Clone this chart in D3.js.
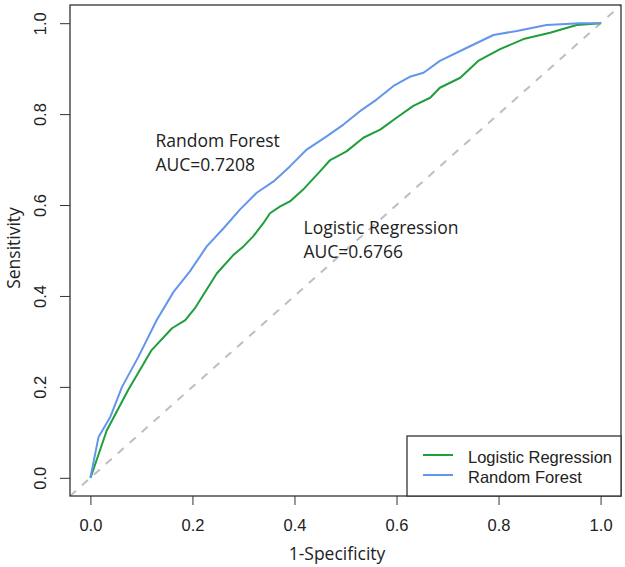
<!DOCTYPE html>
<html><head><meta charset="utf-8">
<script src="https://cdn.jsdelivr.net/npm/d3@7"></script>
<style>body{margin:0;background:#fff}</style>
</head><body>
<svg id="chart" width="625" height="567"></svg>
<script>
// ROC curve points: [1-specificity, sensitivity]
const rfFpr = [0, 0.016, 0.039, 0.062, 0.094, 0.130, 0.163, 0.195, 0.228, 0.261, 0.293, 0.326, 0.359, 0.391, 0.424, 0.463, 0.496, 0.529, 0.561, 0.594, 0.626, 0.653, 0.685, 0.738, 0.790, 0.836, 0.894, 0.960, 1];
const rfTpr = [0, 0.090, 0.134, 0.200, 0.266, 0.347, 0.409, 0.454, 0.509, 0.549, 0.590, 0.627, 0.652, 0.685, 0.722, 0.751, 0.777, 0.807, 0.832, 0.862, 0.882, 0.891, 0.917, 0.946, 0.974, 0.983, 0.996, 1.0, 1];
const lrFpr = [0, 0.003, 0.032, 0.074, 0.120, 0.160, 0.186, 0.205, 0.215, 0.248, 0.280, 0.300, 0.319, 0.339, 0.352, 0.372, 0.391, 0.417, 0.450, 0.470, 0.502, 0.535, 0.568, 0.600, 0.633, 0.666, 0.685, 0.725, 0.760, 0.803, 0.849, 0.901, 0.953, 1];
const lrTpr = [0, 0.009, 0.104, 0.193, 0.281, 0.329, 0.347, 0.373, 0.391, 0.450, 0.490, 0.509, 0.531, 0.560, 0.582, 0.597, 0.608, 0.634, 0.674, 0.699, 0.718, 0.748, 0.766, 0.792, 0.818, 0.836, 0.858, 0.880, 0.917, 0.943, 0.965, 0.979, 0.996, 1];
const tickValues = [0, 0.2, 0.4, 0.6, 0.8, 1.0];
const seriesNames = ["Logistic Regression", "Random Forest"];
const aucLabels = ["AUC=0.6766", "AUC=0.7208"];
const colors = ["#1f9e3c", "#6495ed"];

const svg = d3.select("#chart");
const L = 70, R = 621, T = 5, B = 496;
const x = d3.scaleLinear().domain([-0.04, 1.04]).range([L, R]);
const y = d3.scaleLinear().domain([-0.04, 1.04]).range([B, T]);
const fmt = d3.format(".1f");
const axisFont = "'Liberation Sans', Arial, sans-serif";
const annFont = "'Open Sans', sans-serif";

// clip
svg.append("clipPath").attr("id", "clip").append("rect")
  .attr("x", L).attr("y", T).attr("width", R - L).attr("height", B - T);

// diagonal reference
svg.append("line").attr("clip-path", "url(#clip)")
  .attr("x1", x(-0.04)).attr("y1", y(-0.04)).attr("x2", x(1.04)).attr("y2", y(1.04))
  .attr("stroke", "#bebebe").attr("stroke-width", 2).attr("stroke-dasharray", "8,8");

const line = d3.line().x(d => x(d[0])).y(d => y(d[1]));
const lrData = lrFpr.map((v, i) => [v, lrTpr[i]]);
const rfData = rfFpr.map((v, i) => [v, rfTpr[i]]);
svg.append("path").datum(lrData).attr("d", line).attr("fill", "none")
  .attr("stroke", colors[0]).attr("stroke-width", 2).attr("stroke-linejoin", "round");
svg.append("path").datum(rfData).attr("d", line).attr("fill", "none")
  .attr("stroke", colors[1]).attr("stroke-width", 2).attr("stroke-linejoin", "round");

// axes
const xAxis = svg.append("g").attr("transform", `translate(0,${B})`)
  .call(d3.axisBottom(x).tickValues(tickValues).tickFormat(fmt).tickSize(9).tickPadding(14));
const yAxis = svg.append("g").attr("transform", `translate(${L},0)`)
  .call(d3.axisLeft(y).tickValues(tickValues).tickFormat(fmt).tickSize(10));
[xAxis, yAxis].forEach(a => {
  a.select(".domain").remove();
  a.selectAll(".tick line").attr("stroke", "#333");
  a.selectAll("text").attr("font-family", axisFont).attr("font-size", 16.5).attr("fill", "#222");
});
yAxis.selectAll(".tick text").attr("transform", "rotate(-90)")
  .attr("x", 0).attr("y", -24.5).attr("dy", 0).attr("text-anchor", "middle");

// box
svg.append("rect").attr("x", L).attr("y", T).attr("width", R - L).attr("height", B - T)
  .attr("fill", "none").attr("stroke", "#333").attr("stroke-width", 1.3);

// axis titles
svg.append("text").attr("x", 337).attr("y", 560).attr("text-anchor", "middle")
  .attr("font-family", annFont).attr("font-size", 17.5).attr("fill", "#222").text("1-Specificity");
svg.append("text").attr("transform", "translate(19.5,248) rotate(-90)").attr("text-anchor", "middle")
  .attr("font-family", annFont).attr("font-size", 17.5).attr("fill", "#222").text("Sensitivity");

// annotations
const ann = [
  {name: seriesNames[1], auc: aucLabels[1], px: 155.5, py: 146.5},
  {name: seriesNames[0], auc: aucLabels[0], px: 303.5, py: 233.5}
];
ann.forEach(a => {
  const t = svg.append("text").attr("font-family", annFont).attr("font-size", 17.5).attr("fill", "#222");
  t.append("tspan").attr("x", a.px).attr("y", a.py).text(a.name);
  t.append("tspan").attr("x", a.px).attr("y", a.py + 24).text(a.auc);
});

// legend
const lg = svg.append("g");
lg.append("rect").attr("x", 407).attr("y", 436).attr("width", R - 407).attr("height", B - 436)
  .attr("fill", "#fff").attr("stroke", "#333").attr("stroke-width", 1.3);
seriesNames.forEach((n, i) => {
  const ly = 455 + i * 20;
  lg.append("line").attr("x1", 423).attr("x2", 453).attr("y1", ly).attr("y2", ly)
    .attr("stroke", colors[i]).attr("stroke-width", 2);
  lg.append("text").attr("x", 468).attr("y", ly + 8).attr("font-family", axisFont)
    .attr("font-size", 16.5).attr("fill", "#222").text(n);
});
</script>
</body></html>
